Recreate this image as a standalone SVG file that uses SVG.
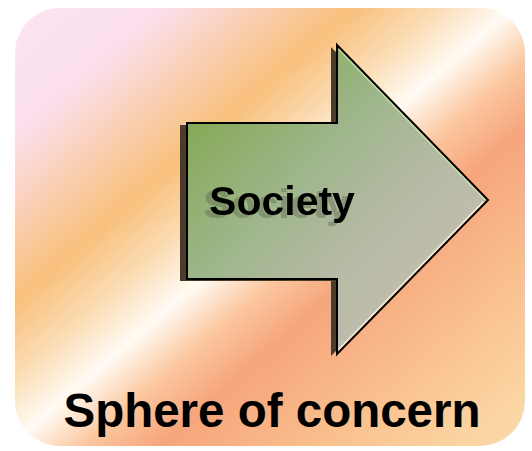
<svg xmlns="http://www.w3.org/2000/svg" width="532" height="451" viewBox="0 0 532 451">
  <defs>
    <linearGradient id="bg" gradientUnits="userSpaceOnUse" x1="0" y1="0" x2="460" y2="528">
      <stop offset="0" stop-color="#fde6f2"/>
      <stop offset="0.16" stop-color="#fbdfec"/>
      <stop offset="0.34" stop-color="#f8c07c"/>
      <stop offset="0.42" stop-color="#fbdcb4"/>
      <stop offset="0.49" stop-color="#fffbf4"/>
      <stop offset="0.56" stop-color="#fbc69e"/>
      <stop offset="0.63" stop-color="#f6a57c"/>
      <stop offset="0.78" stop-color="#f9c08e"/>
      <stop offset="0.92" stop-color="#fbd6a3"/>
      <stop offset="1" stop-color="#fbd9ae"/>
    </linearGradient>
    <linearGradient id="arrowFill" gradientUnits="userSpaceOnUse" x1="190" y1="110" x2="420" y2="330">
      <stop offset="0" stop-color="#84a853"/>
      <stop offset="0.4" stop-color="#9fb68c"/>
      <stop offset="0.7" stop-color="#b8baa6"/>
      <stop offset="1" stop-color="#c4bfb2"/>
    </linearGradient>
    <filter id="txtShadow" x="-10%" y="-20%" width="120%" height="140%">
      <feOffset in="SourceAlpha" dx="-6" dy="3" result="off"/>
      <feFlood flood-color="#5a5f48" flood-opacity="0.4"/>
      <feComposite in2="off" operator="in" result="sh"/>
      <feMerge>
        <feMergeNode in="sh"/>
        <feMergeNode in="SourceGraphic"/>
      </feMerge>
    </filter>
    <style>
      .lbl { font-family: "Liberation Sans", Arial, sans-serif; font-weight: bold; }
    </style>
  </defs>

  <g id="background">
    <rect x="15" y="8" width="510" height="438" rx="45" ry="45" fill="url(#bg)"/>
  </g>

  <g id="society-arrow">
    <polygon points="180,125 331,125 331,47 482,202 331,356 331,281 180,281" fill="#4a3b2b"/>
    <polygon points="187,123 337,123 337,45 488,200 337,354 337,279 187,279" fill="url(#arrowFill)"/>
    <polyline points="339,49 486,200" fill="none" stroke="#c8e8a8" stroke-width="2"/>
    <polyline points="484,202 339,350" fill="none" stroke="#f3e8d2" stroke-width="3"/>
    <polygon points="187,123 337,123 337,45 488,200 337,354 337,279 187,279" fill="none" stroke="#000" stroke-width="2" stroke-linejoin="miter"/>
    <text class="lbl" x="282" y="215" font-size="41" text-anchor="middle" fill="#000" filter="url(#txtShadow)">Society</text>
  </g>

  <g id="title">
    <text class="lbl" x="272" y="427" font-size="47.5" text-anchor="middle" fill="#000">Sphere of concern</text>
  </g>
</svg>
